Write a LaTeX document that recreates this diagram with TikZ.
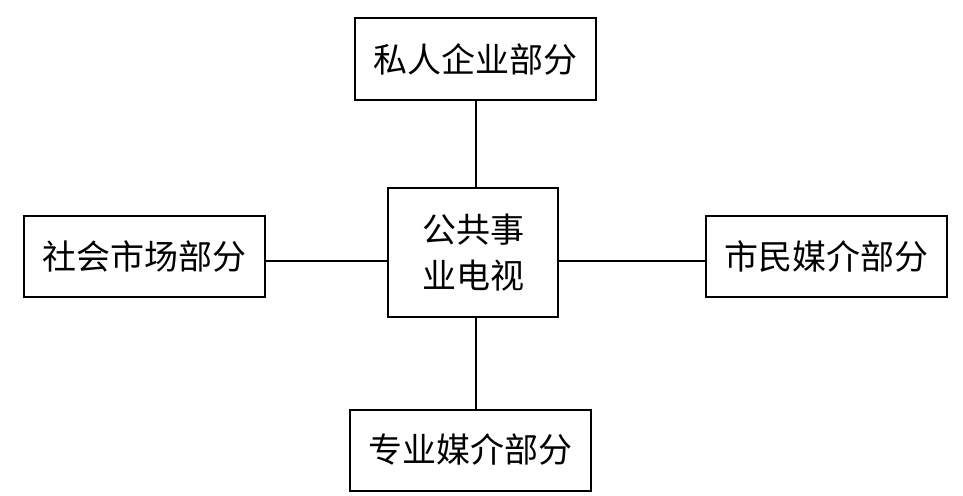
\documentclass[tikz,border=0pt]{standalone}
\usepackage{fontspec}
\newfontfamily\cjk{Noto Sans CJK SC}
\usetikzlibrary{positioning}

\begin{document}
\begin{tikzpicture}[
        x=1pt, y=-1pt,
        every node/.style={font=\cjk\fontsize{34}{46}\selectfont},
        part/.style={draw, line width=2pt, align=center,
                     minimum width=241pt, minimum height=81pt, inner sep=0pt},
        link/.style={line width=2pt}
    ]
        \useasboundingbox (0,0) rectangle (963,495);
        \node[part, minimum width=170pt, minimum height=129pt] (ctr) at (473,252.5) {公共事\\业电视};
        \node[part] (priv)  at (475.5,59)  {私人企业部分};
        \node[part] (soc)   at (144.5,256) {社会市场部分};
        \node[part] (civ)   at (826,256.5) {市民媒介部分};
        \node[part] (prof)  at (470,450)   {专业媒介部分};

        \draw[link] ([xshift=0.5pt]priv.south) -- ([xshift=0.5pt]priv.south |- ctr.north);
        \draw[link] ([xshift=6pt]prof.north) -- ([xshift=6pt]prof.north |- ctr.south);
        \draw[link] ([yshift=-5pt]soc.east) -- ([yshift=-5pt]soc.east -| ctr.west);
        \draw[link] ([yshift=-4.5pt]civ.west) -- ([yshift=-4.5pt]civ.west -| ctr.east);
    \end{tikzpicture}
\end{document}
